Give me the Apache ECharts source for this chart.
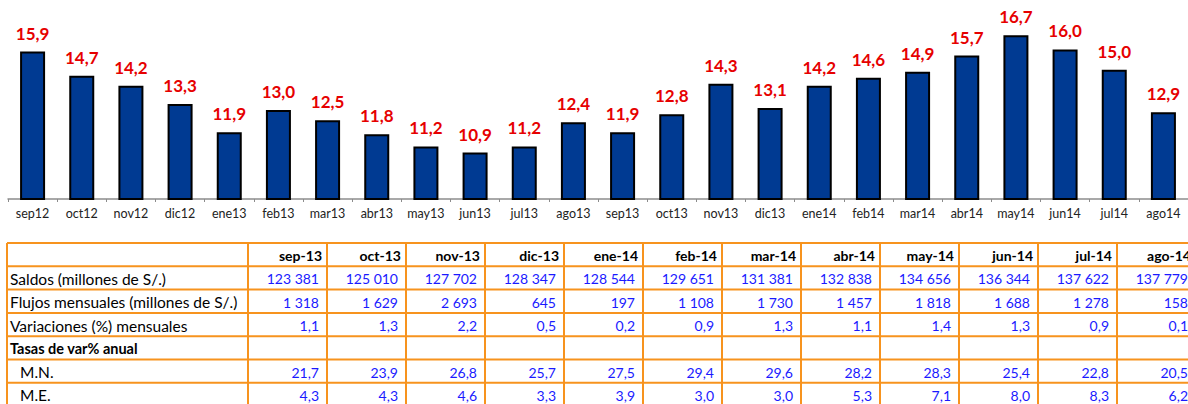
<!DOCTYPE html>
<html>
<head>
<meta charset="utf-8">
<script src="https://cdn.jsdelivr.net/npm/echarts@6/dist/echarts.min.js"></script>
<style>
  html, body { margin: 0; padding: 0; background: #fff; }
  #main { width: 1188px; height: 404px; }
</style>
</head>
<body>
<div id="main"></div>
<script>
// tasa de crecimiento mensual (barras)
var months = ['sep12','oct12','nov12','dic12','ene13','feb13','mar13','abr13','may13','jun13','jul13','ago13',
              'sep13','oct13','nov13','dic13','ene14','feb14','mar14','abr14','may14','jun14','jul14','ago14'];
var growth = [15.9,14.7,14.2,13.3,11.9,13.0,12.5,11.8,11.2,10.9,11.2,12.4,
              11.9,12.8,14.3,13.1,14.2,14.6,14.9,15.7,16.7,16.0,15.0,12.9];

// tabla
var tableCols = ['sep-13','oct-13','nov-13','dic-13','ene-14','feb-14','mar-14','abr-14','may-14','jun-14','jul-14','ago-14'];
var saldos = [123381,125010,127702,128347,128544,129651,131381,132838,134656,136344,137622,137779];
var flujos = [1318,1629,2693,645,197,1108,1730,1457,1818,1688,1278,158];
var varMensual = [1.1,1.3,2.2,0.5,0.2,0.9,1.3,1.1,1.4,1.3,0.9,0.1];
var varMN = [21.7,23.9,26.8,25.7,27.5,29.4,29.6,28.2,28.3,25.4,22.8,20.5];
var varME = [4.3,4.3,4.6,3.3,3.9,3.0,3.0,5.3,7.1,8.0,8.3,6.2];

var FONT = 'Lato, "Liberation Sans", sans-serif';

function miles(n) {
  return String(n).replace(/\B(?=(\d{3})+(?!\d))/g, ' ');
}
function dec(n) {
  return n.toFixed(1).replace('.', ',');
}

var rows = [
  { label: 'Saldos (millones de S/.)', values: saldos, fmt: miles },
  { label: 'Flujos mensuales (millones de S/.)', values: flujos, fmt: miles },
  { label: 'Variaciones (%) mensuales', values: varMensual, fmt: dec },
  { label: 'Tasas de var% anual', bold: true },
  { label: 'M.N.', values: varMN, fmt: dec, indent: 10 },
  { label: 'M.E.', values: varME, fmt: dec, indent: 10 }
];

// geometría de la tabla
var tLeft = 7, tTop = 243, firstW = 241, colW = 79, rowH = 23.3;
var orange = '#F7931E';

function buildTable() {
  var els = [];
  var nRows = rows.length + 1;
  var right = tLeft + firstW + tableCols.length * colW;
  var i, j;
  for (i = 0; i <= nRows; i++) {
    var y = tTop + i * rowH;
    els.push({ type: 'line', shape: { x1: tLeft, y1: y, x2: right, y2: y },
      style: { stroke: orange, lineWidth: 2 }, z: 10 });
  }
  var xs = [tLeft];
  for (j = 0; j <= tableCols.length; j++) xs.push(tLeft + firstW + j * colW);
  xs.forEach(function (x) {
    els.push({ type: 'line', shape: { x1: x, y1: tTop, x2: x, y2: tTop + nRows * rowH },
      style: { stroke: orange, lineWidth: 2 }, z: 10 });
  });
  function txt(s, x, y, align, color, font) {
    els.push({ type: 'text', x: x, y: y, z: 11,
      style: { text: s, fill: color, font: font, align: align, textAlign: align,
               verticalAlign: 'middle', textVerticalAlign: 'middle' } });
  }
  // cabecera
  tableCols.forEach(function (c, k) {
    txt(c, tLeft + firstW + (k + 1) * colW - 5, tTop + rowH / 2 + 1, 'right', '#000', 'bold 14px ' + FONT);
  });
  rows.forEach(function (r, ri) {
    var cy = tTop + (ri + 1) * rowH + rowH / 2 + 1;
    txt(r.label, tLeft + 3 + (r.indent || 0), cy, 'left', '#000',
        r.bold ? 'bold 14.5px ' + FONT : '15.5px ' + FONT);
    if (r.values) {
      r.values.forEach(function (v, k) {
        txt(r.fmt(v), tLeft + firstW + (k + 1) * colW - 8, cy, 'right', '#1a1aff', '14px ' + FONT);
      });
    }
  });
  return els;
}

var chart = echarts.init(document.getElementById('main'), null, { renderer: 'svg' });
var option = {
  animation: false,
  backgroundColor: '#fff',
  grid: { left: 8, top: 0, width: 1186, height: 199, containLabel: false },
  xAxis: {
    type: 'category',
    data: months,
    axisLine: { lineStyle: { color: '#8c8c8c', width: 1.5 } },
    axisTick: { show: true, length: 3, lineStyle: { color: '#8c8c8c' } },
    axisLabel: { color: '#222', fontFamily: FONT, fontSize: 12.5, margin: 8, interval: 0 }
  },
  yAxis: {
    type: 'value',
    min: 8.6,
    max: 18.45,
    show: false,
    splitLine: { show: false }
  },
  series: [{
    type: 'bar',
    data: growth,
    barWidth: 25,
    itemStyle: { color: '#003A92', borderColor: '#000', borderWidth: 2 },
    label: {
      show: true,
      position: 'top',
      distance: 10,
      color: '#E60000',
      fontFamily: FONT,
      fontWeight: 'bold',
      fontSize: 17,
      formatter: function (p) { return dec(p.value); }
    }
  }],
  graphic: buildTable()
};
chart.setOption(option);
</script>
</body>
</html>
